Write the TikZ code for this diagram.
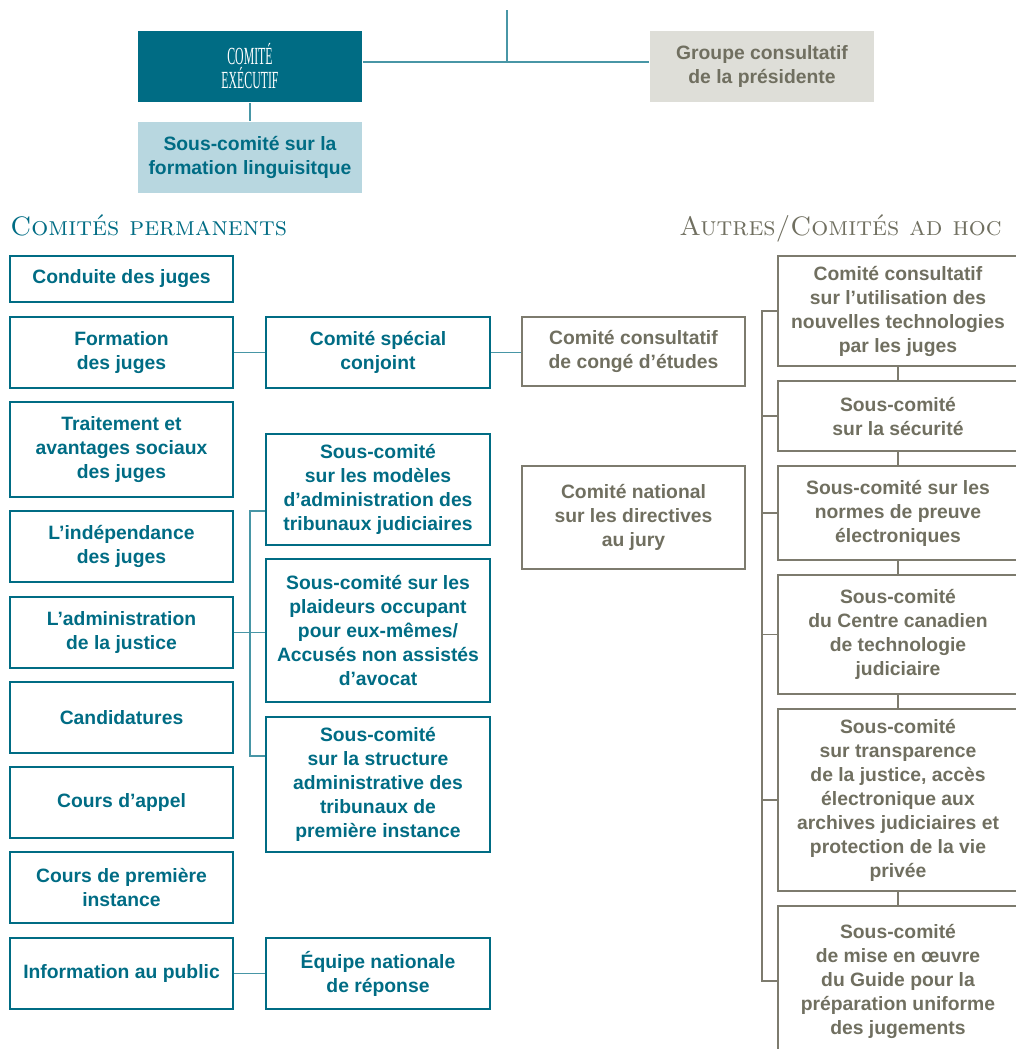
\documentclass[tikz,border=0pt]{standalone}
\usepackage{fontspec}
\setsansfont{Liberation Sans}
\newfontfamily\execfont{Liberation Serif}[FakeStretch=0.48]
\usetikzlibrary{positioning}
\definecolor{cjcteal}{RGB}{0,108,132}
\definecolor{cjclink}{RGB}{72,150,166}
\definecolor{cjcblue}{RGB}{184,215,224}
\definecolor{cjcgray}{RGB}{112,111,96}
\definecolor{cjcline}{RGB}{125,123,110}
\definecolor{cjcfill}{RGB}{222,222,216}

\begin{document}
\begin{tikzpicture}[
    x=0.02cm, y=-0.02cm,
    box/.style={align=center, inner sep=2pt, line width=1.1pt, font=\sffamily\bfseries\fontsize{11}{13.66}\selectfont},
    perm/.style={box, draw=cjcteal, text=cjcteal, minimum width=4.46cm},
    sub/.style={box, draw=cjcteal, text=cjcteal, minimum width=4.48cm},
    autre/.style={box, draw=cjcline, text=cjcgray, minimum width=4.46cm},
    adhoc/.style={box, draw=cjcline, text=cjcgray, minimum width=4.8cm},
    top/.style={box, minimum width=4.48cm, minimum height=1.42cm},
    head/.style={font=\scshape\fontsize{15.2}{17}\selectfont, inner sep=0pt},
    link/.style={cjclink, line width=1.1pt},
    glink/.style={cjcline, line width=1.1pt}
]
\useasboundingbox (0,0) rectangle (1016,1049);
\clip (0,0) rectangle (1016,1049);

\node[top, fill=cjcteal, text=white, font=\execfont\fontsize{14}{13.66}\selectfont] (exec) at (250,66.5) {COMITÉ\\EXÉCUTIF};
\node[top, fill=cjcfill, text=cjcgray] (groupe) at (762,66.5) {Groupe consultatif\\de la présidente};
\node[top, fill=cjcblue, text=cjcteal] (ling) at (250,157.5) {Sous-comité sur la\\formation linguisitque};
\coordinate (tophook) at (507,10);
\coordinate (junc) at (507,62);
\draw[link] (tophook) -- (junc);
\draw[link] (exec.east |- junc) -- (groupe.west |- junc);
\draw[link] (exec) -- (ling);

\node[head, text=cjcteal, anchor=base west] (permhead) at (10,235) {Comités permanents};
\node[head, text=cjcgray, anchor=base east] (autrehead) at (1002,235) {Autres/Comités ad hoc};

\node[perm, minimum height=0.92cm] (conduite) at (121.5,279) {Conduite des juges};
\node[perm, minimum height=1.42cm] (formation) at (121.5,352.5) {Formation\\des juges};
\node[perm, minimum height=1.9cm] (traitement) at (121.5,449.5) {Traitement et\\avantages sociaux\\des juges};
\node[perm, minimum height=1.42cm] (indep) at (121.5,546.5) {L’indépendance\\des juges};
\node[perm, minimum height=1.42cm] (admin) at (121.5,632.5) {L’administration\\de la justice};
\node[perm, minimum height=1.42cm] (candid) at (121.5,717.5) {Candidatures};
\node[perm, minimum height=1.42cm] (appel) at (121.5,802.5) {Cours d’appel};
\node[perm, minimum height=1.42cm] (premiere) at (121.5,887.5) {Cours de première\\instance};
\node[perm, minimum height=1.42cm] (info) at (121.5,973.5) {Information au public};

\node[sub, minimum height=1.42cm] (special) at (378,352.5) {Comité spécial\\conjoint};
\node[sub, minimum height=2.22cm] (modeles) at (378,489.5) {Sous-comité\\sur les modèles\\d’administration des\\tribunaux judiciaires};
\node[sub, minimum height=2.86cm] (plaideurs) at (378,630.5) {Sous-comité sur les\\plaideurs occupant\\pour eux-mêmes/\\Accusés non assistés\\d’avocat};
\node[sub, minimum height=2.7cm] (structure) at (378,784.5) {Sous-comité\\sur la structure\\administrative des\\tribunaux de\\première instance};
\node[sub, minimum height=1.42cm] (equipe) at (378,973.5) {Équipe nationale\\de réponse};

\node[autre, minimum height=1.38cm] (conge) at (633.5,351.5) {Comité consultatif\\de congé d’études};
\node[autre, minimum height=2.06cm] (jury) at (633.5,517.5) {Comité national\\sur les directives\\au jury};

\node[adhoc, minimum height=2.2cm] (techno) at (898,311) {Comité consultatif\\sur l’utilisation des\\nouvelles technologies\\par les juges};
\node[adhoc, minimum height=1.4cm] (securite) at (898,416) {Sous-comité\\sur la sécurité};
\node[adhoc, minimum height=1.88cm] (preuve) at (898,513) {Sous-comité sur les\\normes de preuve\\électroniques};
\node[adhoc, minimum height=2.38cm] (centre) at (898,634.5) {Sous-comité\\du Centre canadien\\de technologie\\judiciaire};
\node[adhoc, minimum height=3.64cm] (transp) at (898,800) {Sous-comité\\sur transparence\\de la justice, accès\\électronique aux\\archives judiciaires et\\protection de la vie\\privée};
\node[adhoc, minimum height=3.0cm] (guide) at (898,981) {Sous-comité\\de mise en œuvre\\du Guide pour la\\préparation uniforme\\des jugements};

\draw[link] (formation) -- (special);
\draw[link] (special) -- (conge.west |- special);
\draw[link] (info) -- (equipe);
\draw[link] (admin) -- (plaideurs.west |- admin);
\coordinate (mtop) at (250,511);
\coordinate (mbot) at (250,756);
\draw[link] (modeles.west |- mtop) -- (mtop) -- (mbot) -- (structure.west |- mbot);

\coordinate (spine) at (762,0);
\draw[glink] (techno.west) -- (spine |- techno.west) -- (spine |- guide.west) -- (guide.west);
\foreach \n in {securite,preuve,centre,transp}
    \draw[glink] (\n.west) -- (spine |- \n.west);
\foreach \a/\b in {techno/securite,securite/preuve,preuve/centre,centre/transp,transp/guide}
    \draw[glink] (\a) -- (\b);
\end{tikzpicture}
\end{document}
